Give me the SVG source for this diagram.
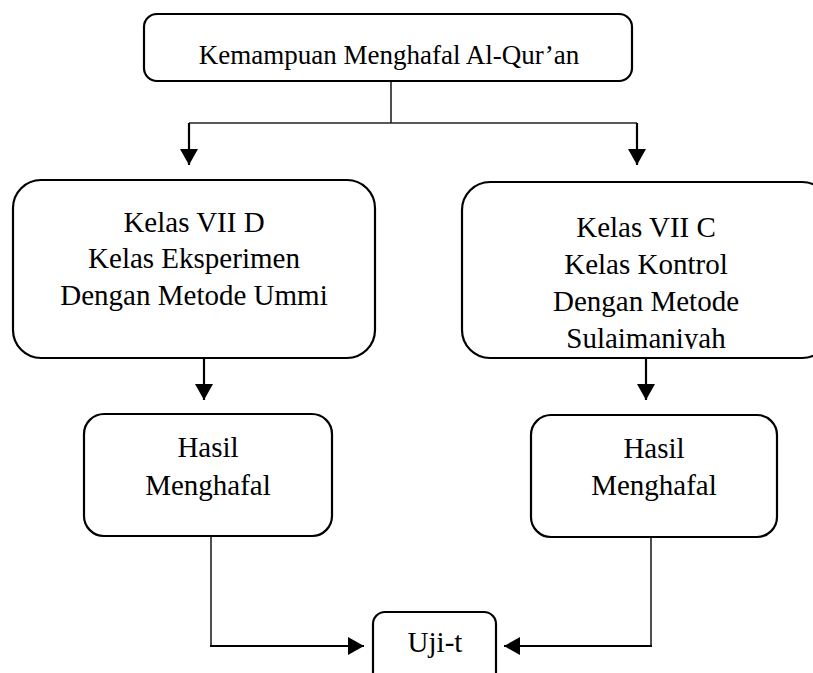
<svg xmlns="http://www.w3.org/2000/svg" width="813" height="673" viewBox="0 0 813 673">
<style>
.box{fill:#fff;stroke:#000;stroke-width:2.2}
.t{font-family:"Liberation Serif","Times New Roman",serif;font-size:29px;fill:#000;text-anchor:middle}
.thin{fill:none;stroke:#222;stroke-width:1.6}
.thick{fill:none;stroke:#000;stroke-width:2.2}
</style>
<defs>
<marker id="arr" markerUnits="userSpaceOnUse" markerWidth="17" markerHeight="18" refX="16" refY="9" orient="auto" viewBox="0 0 17 18">
<path d="M0,0 L16,9 L0,18 z" fill="#000"/>
</marker>
<clipPath id="clipR"><rect x="462" y="182" width="368" height="167"/></clipPath>
</defs>
<rect width="813" height="673" fill="#fff"/>
<g id="connectors">
<path class="thin" d="M391,81 V123"/>
<path class="thin" d="M189,123 H637"/>
<path class="thick" d="M189,123 V165" marker-end="url(#arr)"/>
<path class="thick" d="M637,123 V165" marker-end="url(#arr)"/>
<path class="thick" d="M204,358 V400" marker-end="url(#arr)"/>
<path class="thick" d="M646,358 V400" marker-end="url(#arr)"/>
<path class="thin" d="M211,536 V646"/>
<path class="thick" d="M210,646 H364" marker-end="url(#arr)"/>
<path class="thin" d="M651,537 V646"/>
<path class="thick" d="M652,646 H504" marker-end="url(#arr)"/>
</g>
<g id="top">
<rect class="box" x="144" y="14" width="488" height="67" rx="13"/>
<text class="t" x="389" y="64" style="font-size:27px">Kemampuan Menghafal Al-Qur’an</text>
</g>
<g id="left">
<rect class="box" x="13" y="180" width="362" height="178" rx="28"/>
<text class="t" x="194" y="232">Kelas VII D</text>
<text class="t" x="194" y="268">Kelas Eksperimen</text>
<text class="t" x="194" y="305">Dengan Metode Ummi</text>
</g>
<g id="right">
<rect class="box" x="462" y="182" width="368" height="176" rx="28"/>
<g clip-path="url(#clipR)">
<text class="t" x="646" y="237">Kelas VII C</text>
<text class="t" x="646" y="274">Kelas Kontrol</text>
<text class="t" x="646" y="311">Dengan Metode</text>
<text class="t" x="646" y="348">Sulaimaniyah</text>
</g>
</g>
<g id="hasilLeft">
<rect class="box" x="84" y="414" width="248" height="122" rx="20"/>
<text class="t" x="208" y="457">Hasil</text>
<text class="t" x="208" y="495">Menghafal</text>
</g>
<g id="hasilRight">
<rect class="box" x="531" y="415" width="246" height="122" rx="20"/>
<text class="t" x="654" y="458">Hasil</text>
<text class="t" x="654" y="495">Menghafal</text>
</g>
<g id="ujit">
<rect class="box" x="373" y="612" width="123" height="80" rx="12"/>
<text class="t" x="435" y="652">Uji-t</text>
</g>
</svg>
